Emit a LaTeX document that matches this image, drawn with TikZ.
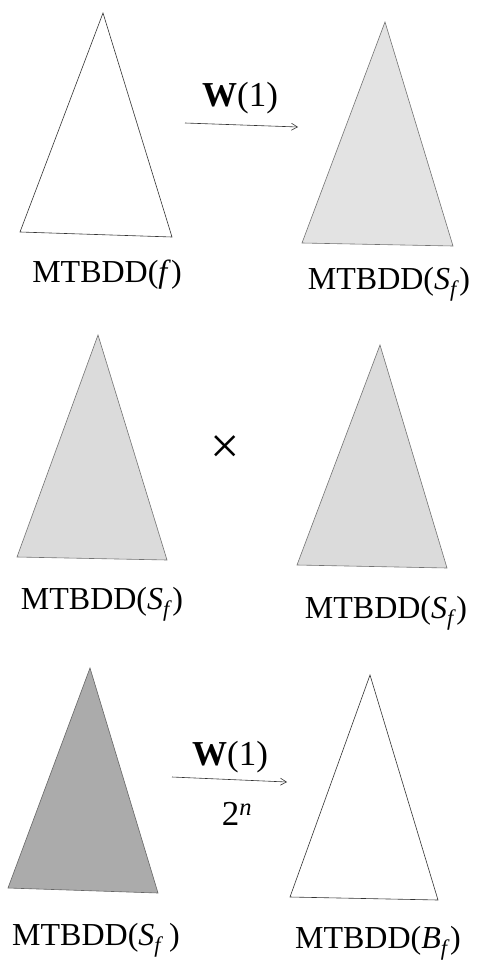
\documentclass[tikz,border=0pt]{standalone}
\usepackage{fontspec}
\setmainfont{Liberation Serif}
\usetikzlibrary{arrows.meta}

\begin{document}
\begin{tikzpicture}[
      x=1pt,y=-1pt,
      >={Straight Barb[length=6pt,width=7pt]},
      tree/.style={draw=black!80,line width=0.6pt,line join=miter},
      shaded/.style={tree,draw=black!55,fill=black!14},
      dark/.style={tree,draw=black!60,fill=black!33},
      bddname/.style={anchor=base,inner sep=0pt,font=\fontsize{32}{36}\selectfont},
      oplabel/.style={anchor=base,inner sep=0pt,font=\fontsize{35}{38}\selectfont},
      flow/.style={->,black!80,line width=0.6pt}
    ]
      \fill[white] (0,0) rectangle (477,960);

      % first row
      \draw[tree] (103,13) -- (20,232) -- (172,237) -- cycle;
      \draw[shaded,fill=black!11] (385,22) -- (302,243) -- (453,246) -- cycle;
      \node[bddname] (bddf) at (107,282) {MTBDD(\textit{f})};
      \node[bddname] (bddsf) at (389,289) {MTBDD(\textit{S}\textsubscript{\textit{f}})};
      \coordinate (w1a) at (185,123);
      \coordinate (w1b) at (298,127);
      \draw[flow] (w1a) -- (w1b);
      \node[oplabel] (w1) at (240,107) {\textbf{W}(1)};

      % second row
      \draw[shaded] (98,335) -- (17,557) -- (167,560) -- cycle;
      \draw[shaded] (380,345) -- (297,565) -- (447,568) -- cycle;
      \node[bddname] (bddsl) at (102,609) {MTBDD(\textit{S}\textsubscript{\textit{f}})};
      \node[bddname] (bddsr) at (386,618) {MTBDD(\textit{S}\textsubscript{\textit{f}})};
      \node[inner sep=0pt,font=\fontsize{52}{54}\selectfont] (times) at (225,450) {×};

      % third row
      \draw[dark] (90,668) -- (8,888) -- (158,893) -- cycle;
      \draw[tree] (370,675) -- (290,897) -- (438,900) -- cycle;
      \node[bddname] (bddsd) at (96,945) {MTBDD(\textit{S}\textsubscript{\textit{f}}\,)};
      \node[bddname] (bddbf) at (378,948) {MTBDD(\textit{B}\textsubscript{\textit{f}})};
      \coordinate (w2a) at (172,777);
      \coordinate (w2b) at (287,782);
      \draw[flow] (w2a) -- (w2b);
      \node[oplabel] (w2) at (230,765) {\textbf{W}(1)};
      \node[oplabel] (pow) at (237,825) {2\textsuperscript{\textit{n}}};
    \end{tikzpicture}
\end{document}
